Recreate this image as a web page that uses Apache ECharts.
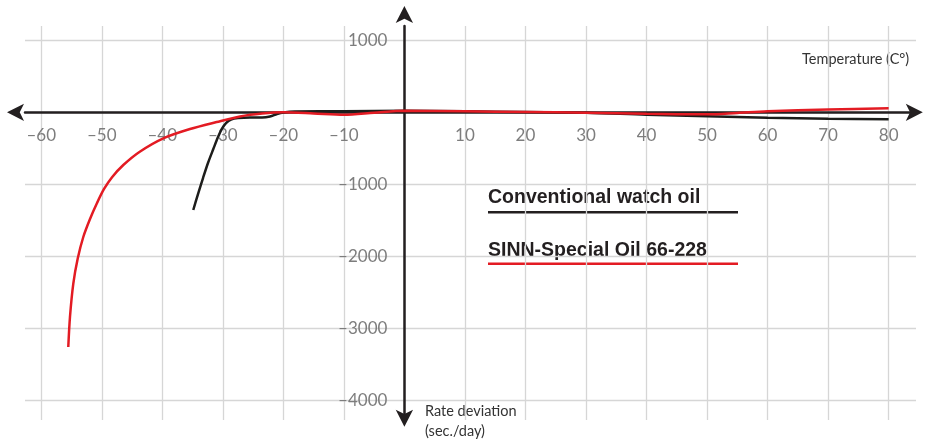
<!DOCTYPE html>
<html><head><meta charset="utf-8">
<script src="https://cdn.jsdelivr.net/npm/echarts@6/dist/echarts.min.js"></script>
<style>html,body{margin:0;padding:0;background:#fff}#c{width:926px;height:441px}</style>
</head><body><div id="c"></div>
<script>
const xTicks = [-60,-50,-40,-30,-20,-10,0,10,20,30,40,50,60,70,80];
const yTicks = [1000,0,-1000,-2000,-3000,-4000];
const seriesNames = ['Conventional watch oil','SINN-Special Oil 66-228'];
const convTemp = [-34.88,-34.10,-33.27,-32.45,-31.57,-30.79,-30.13,-29.47,-28.65,-27.49,-25.51,-23.52,-22.20,-21.05,-20.0,-18.07,-10,0,10,20,30,40,50,60,70,80];
const convRate = [-1357,-1135,-913,-704,-510,-343,-225,-149,-100,-79,-72,-72,-58,-24,-3,11,14,22,14,4,-5,-35,-55,-75,-88,-95];
const sinnTemp = [-55.53,-55.25,-54.70,-53.97,-53.05,-51.94,-50.78,-49.62,-48.30,-46.44,-43.72,-39.83,-35.42,-31.01,-27.16,-23.52,-20,-15,-10,-5,0,10,20,30,40,50,55,60,70,80];
const sinnRate = [-3260,-2843,-2379,-2032,-1732,-1482,-1260,-1065,-901,-732,-547,-361,-232,-135,-58,-17,0,-15,-33,-5,22,14,4,-5,-20,-28,-8,14,40,55];

const zip = (a, b) => a.map((v, i) => [v, b[i]]);
const fmt = v => (v < 0 ? '\u2013' + Math.abs(v) : String(v));
const ink = '#231f20';
const xMin = -62.68, xMax = 84.52, yMin = -4274, yMax = 1199;
const G = {left: 25, right: 10, top: 26, bottom: 21, w: 926, h: 441};
// place each axis on the other axis' zero through the scale fractions
const gw = G.w - G.left - G.right, gh = G.h - G.top - G.bottom;
const yZeroFromBottom = (0 - yMin) / (yMax - yMin) * gh;
const xZeroFromLeft = (0 - xMin) / (xMax - xMin) * gw;

const chart = echarts.init(document.getElementById('c'));
chart.setOption({
  animation: false,
  backgroundColor: '#fff',
  grid: {left: G.left, right: G.right, top: G.top, bottom: G.bottom, containLabel: false, outerBoundsMode: 'none'},
  xAxis: {
    type: 'value', min: xMin, max: xMax, position: 'bottom', offset: -yZeroFromBottom,
    axisLine: {onZero: false, lineStyle: {color: ink, width: 2.5},
      symbol: ['arrow', 'arrow'], symbolSize: [13, 17], symbolOffset: [-18, 6.8]},
    axisTick: {show: false, customValues: xTicks},
    axisLabel: {customValues: xTicks.filter(v => v !== 0), formatter: fmt,
      color: '#7d7d7d', fontSize: 17, fontFamily: 'Lato', margin: 15},
    splitLine: {show: true, lineStyle: {color: '#d6d6d6', width: 1.3}}
  },
  yAxis: {
    type: 'value', min: yMin, max: yMax, position: 'left', offset: -xZeroFromLeft,
    axisLine: {onZero: false, lineStyle: {color: ink, width: 2.5},
      symbol: ['arrow', 'arrow'], symbolSize: [13, 17], symbolOffset: [-6.7, 20]},
    axisTick: {show: false, customValues: yTicks},
    axisLabel: {customValues: yTicks.filter(v => v !== 0), formatter: fmt,
      color: '#7d7d7d', fontSize: 17, fontFamily: 'Lato', margin: 17},
    splitLine: {show: true, lineStyle: {color: '#d6d6d6', width: 1.3}}
  },
  series: [
    {name: seriesNames[0], type: 'line', data: zip(convTemp, convRate), smooth: 0.3,
      showSymbol: false, lineStyle: {color: '#1d1d1b', width: 2.5}, itemStyle: {color: '#1d1d1b'}},
    {name: seriesNames[1], type: 'line', data: zip(sinnTemp, sinnRate), smooth: 0.3,
      showSymbol: false, lineStyle: {color: '#e31b23', width: 2.5}, itemStyle: {color: '#e31b23'}}
  ],
  graphic: [
    {type: 'text', style: {text: 'Temperature (C\u00b0)', x: 802, y: 59, textVerticalAlign: 'middle',
      font: '14.5px Lato', fill: '#333'}},
    {type: 'text', style: {text: 'Rate deviation', x: 425, y: 411.5, textVerticalAlign: 'middle',
      font: '14.5px Lato', fill: '#333'}},
    {type: 'text', style: {text: '(sec./day)', x: 425, y: 431, textVerticalAlign: 'middle',
      font: '14.5px Lato', fill: '#333'}},
    {type: 'text', style: {text: seriesNames[0], x: 488, y: 197.5, textVerticalAlign: 'middle',
      font: 'bold 19.5px "Liberation Sans"', fill: ink}},
    {type: 'line', shape: {x1: 488, y1: 212.3, x2: 738, y2: 212.3}, style: {stroke: ink, lineWidth: 2.5}},
    {type: 'text', style: {text: seriesNames[1], x: 488, y: 251, textVerticalAlign: 'middle',
      font: 'bold 19.5px "Liberation Sans"', fill: ink}},
    {type: 'line', shape: {x1: 488, y1: 263.7, x2: 738, y2: 263.7}, style: {stroke: '#e31b23', lineWidth: 2.5}}
  ]
});
</script></body></html>
